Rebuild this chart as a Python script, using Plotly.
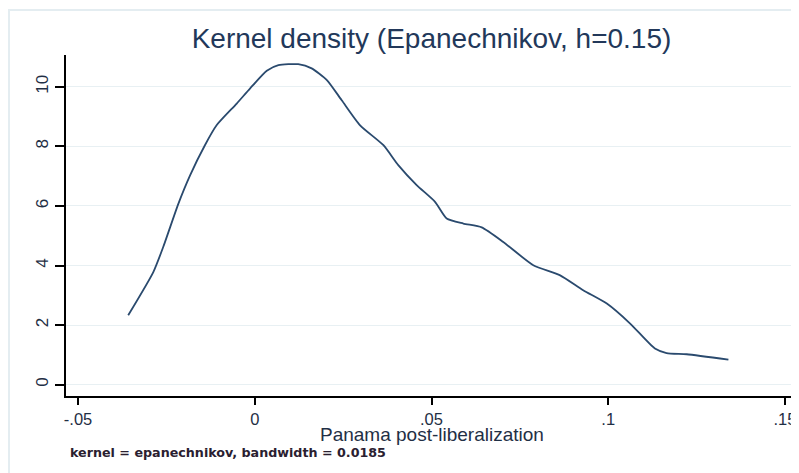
import plotly.graph_objects as go

# kernel density estimate
x_vals = [-0.0358, -0.0287, -0.0259, -0.0216, -0.0183, -0.0141, -0.0108, -0.0051, -0.0013,
          0.0034, 0.0067, 0.0123, 0.0161, 0.0204, 0.0246, 0.0298, 0.0364, 0.0406, 0.0458,
          0.0510, 0.0543, 0.0590, 0.0642, 0.0703, 0.0788, 0.0864, 0.0929, 0.0996, 0.1062,
          0.1132, 0.1165, 0.1222, 0.1340]
density = [2.33, 3.78, 4.62, 6.08, 7.03, 8.04, 8.71, 9.44, 9.95,
           10.54, 10.73, 10.76, 10.62, 10.23, 9.55, 8.71, 8.04, 7.37, 6.70,
           6.14, 5.58, 5.41, 5.28, 4.79, 4.01, 3.67, 3.17, 2.72, 2.05,
           1.21, 1.06, 1.02, 0.84]

x_ticks = [-0.05, 0, 0.05, 0.1, 0.15]
x_labels = ['-.05', '0', '.05', '.1', '.15']
y_ticks = [0, 2, 4, 6, 8, 10]
y_labels = ['0', '2', '4', '6', '8', '10']

title_text = 'Kernel density (Epanechnikov, h=0.15)'
x_title = 'Panama post-liberalization'
note_text = 'kernel = epanechnikov, bandwidth = 0.0185'

text_col = '#1f2f45'
font_family = 'Liberation Sans, Arial, sans-serif'

# the page body has an 8px margin, so the figure is a bit smaller than the window
W, H = 791, 465
ml, mr, mt, mb = 58, 2, 47, 77
plot_w = W - ml - mr
plot_h = H - mt - mb

fig = go.Figure(go.Scatter(
    x=x_vals,
    y=density,
    mode='lines',
    line=dict(color='#2a4a6e', width=1.8, shape='spline', smoothing=0.6),
    hoverinfo='skip'
))

fig.update_layout(
    width=W,
    height=H,
    plot_bgcolor='white',
    paper_bgcolor='white',
    showlegend=False,
    margin=dict(l=ml, r=mr, t=mt, b=mb),
    font=dict(family=font_family, color=text_col),
    title=dict(text=title_text, x=0.5, xref='paper', xanchor='center',
               y=1 - 30 / H, yanchor='middle',
               font=dict(size=28, color='#22385a')),
    xaxis=dict(
        range=[-0.0534, 0.1534],
        tickvals=x_ticks,
        ticktext=x_labels,
        automargin=False,
        showgrid=False,
        zeroline=False,
        showline=True,
        linecolor='black',
        linewidth=2,
        ticks='outside',
        ticklen=7,
        tickwidth=1.5,
        tickcolor='black',
        tickfont=dict(size=16.5, color=text_col),
    ),
    yaxis=dict(
        range=[-0.383, 11.07],
        tickvals=y_ticks,
        ticktext=y_labels,
        tickangle=-90,
        automargin=False,
        showgrid=True,
        gridcolor='#e8f0f3',
        gridwidth=1.2,
        zeroline=False,
        showline=True,
        linecolor='black',
        linewidth=2,
        ticks='outside',
        ticklen=9,
        tickwidth=1.5,
        tickcolor='black',
        tickfont=dict(size=17, color=text_col),
    ),
)

# outer frame of the graph region
fig.add_shape(type='rect', xref='paper', yref='paper',
              x0=(1 - ml) / plot_w, x1=1.2, y0=-0.4, y1=(plot_h + 45) / plot_h,
              line=dict(color='#e4edf1', width=2), layer='below')

fig.add_annotation(text=x_title, xref='paper', yref='paper', x=0.5, y=-39 / plot_h,
                   xanchor='center', yanchor='middle', showarrow=False,
                   font=dict(size=19, color=text_col))
fig.add_annotation(text='<b>' + note_text + '</b>', xref='paper', yref='paper', x=2 / plot_w,
                   y=-56 / plot_h, xanchor='left', yanchor='middle', showarrow=False,
                   font=dict(size=12.7, color='#2a2030', family='DejaVu Sans, sans-serif'))

fig.write_html("out.html")
